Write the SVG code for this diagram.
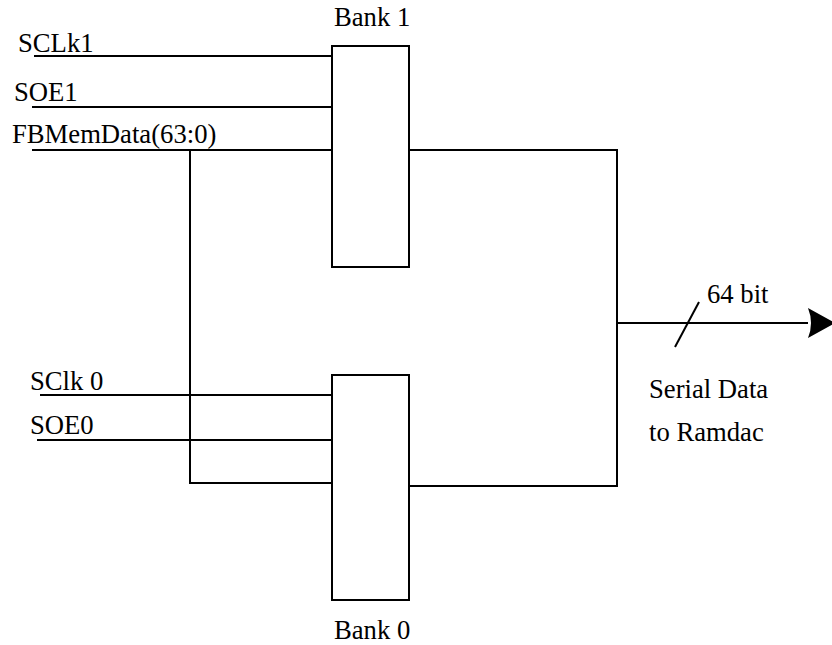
<svg xmlns="http://www.w3.org/2000/svg" width="832" height="645" viewBox="0 0 832 645">
<style>
.t{font-family:'Liberation Serif','Times New Roman',Times,serif;font-size:26.67px;fill:#000}
.w{stroke:#000;stroke-width:2;fill:none}
.box{stroke:#000;stroke-width:2;fill:#fff}
</style>
<defs>
<marker id="arr" markerUnits="userSpaceOnUse" markerWidth="30" markerHeight="32" refX="0" refY="16" orient="auto" overflow="visible">
<path d="M0,1 Q6,16 0,31 L27,16 Z" fill="#000"/>
</marker>
</defs>
<rect width="832" height="645" fill="#fff"/>
<g id="connectors" class="w">
<line x1="34" y1="56" x2="332" y2="56"/>
<line x1="32" y1="107" x2="332" y2="107"/>
<line x1="32" y1="150" x2="332" y2="150"/>
<polyline points="190,150 190,483 332,483"/>
<line x1="40" y1="395" x2="332" y2="395"/>
<line x1="37" y1="440" x2="332" y2="440"/>
<polyline points="409,150 617,150 617,486 409,486"/>
<line x1="617" y1="323" x2="808" y2="323" marker-end="url(#arr)"/>
<line x1="699" y1="302" x2="675" y2="347"/>
</g>
<g id="bank1">
<rect class="box" x="332" y="46" width="77" height="221"/>
<text class="t" x="334" y="26" font-family="Liberation Serif">Bank 1</text>
</g>
<g id="bank0">
<rect class="box" x="332" y="375" width="77" height="225"/>
<text class="t" x="334" y="639" font-family="Liberation Serif">Bank 0</text>
</g>
<g id="labels" font-family="Liberation Serif">
<text class="t" x="18" y="52">SCLk1</text>
<text class="t" x="14" y="101">SOE1</text>
<text class="t" x="12" y="143">FBMemData(63:0)</text>
<text class="t" x="30" y="390">SClk 0</text>
<text class="t" x="30" y="434">SOE0</text>
<text class="t" x="707" y="303">64 bit</text>
<text class="t" x="649" y="398">Serial Data</text>
<text class="t" x="649" y="441">to Ramdac</text>
</g>
</svg>
